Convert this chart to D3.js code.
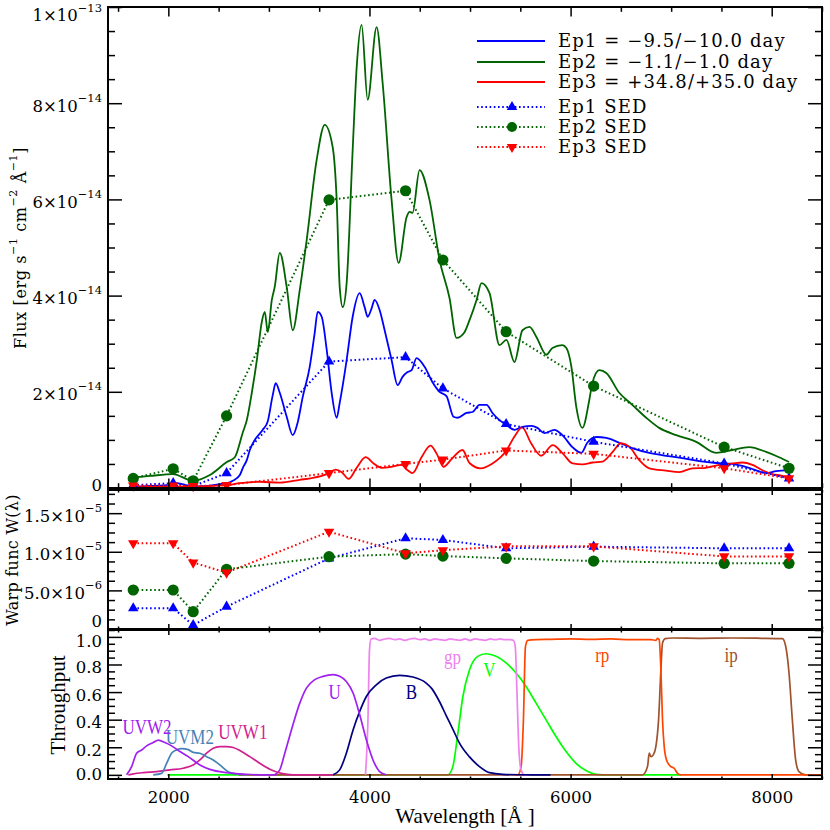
<!DOCTYPE html>
<html><head><meta charset="utf-8">
<script src="https://cdn.jsdelivr.net/npm/d3@7"></script>
<style>body{margin:0;background:#fff}svg{display:block}</style>
</head><body><svg id="c" width="830" height="830"></svg>
<script>
// ---------------- DATA ----------------
const FLUX_UNIT = 1e-14;   // spectra & SED values are in units of 1e-14 erg/s/cm2/A
const WARP_UNIT = 1e-5;    // warp function values are in units of 1e-5

// spectra: [wavelength (A), flux (1e-14)]
const ep1Spectrum = [[1618,0.03],[1986,0.06],[2085,0.10],[2244,0.03],[2582,0.10],[2641,0.15],[2711,0.27],[2741,0.42],[2780,0.58],[2810,0.79],[2860,1.00],[2939,1.21],[2989,1.39],[3038,1.93],[3068,2.18],[3108,1.98],[3177,1.48],[3237,1.10],[3287,1.37],[3336,1.89],[3406,2.52],[3455,3.22],[3485,3.66],[3525,3.56],[3575,2.87],[3624,1.98],[3674,1.46],[3704,1.77],[3773,2.66],[3833,3.56],[3902,4.05],[3952,3.76],[3982,3.56],[4022,3.74],[4051,3.91],[4101,3.70],[4151,3.28],[4220,2.66],[4280,2.14],[4329,2.31],[4379,2.41],[4419,2.45],[4468,2.70],[4548,2.52],[4627,2.20],[4697,2.00],[4766,1.91],[4836,1.48],[4876,1.46],[4965,1.56],[5025,1.58],[5094,1.73],[5164,1.73],[5223,1.56],[5293,1.41],[5362,1.31],[5442,1.21],[5521,1.27],[5611,1.29],[5670,1.25],[5740,1.14],[5839,1.21],[5918,1.10],[6018,0.85],[6107,0.73],[6166,0.94],[6256,1.06],[6355,1.04],[6484,0.94],[6613,0.83],[6782,0.73],[6951,0.67],[7110,0.62],[7279,0.56],[7447,0.52],[7606,0.50],[7775,0.42],[7944,0.31],[8043,0.35],[8172,0.37]];

const ep2Spectrum = [[1618,0.21],[1817,0.25],[2045,0.29],[2244,0.15],[2413,0.27],[2582,0.54],[2661,0.64],[2741,1.16],[2780,1.41],[2830,1.98],[2880,2.66],[2929,3.45],[2959,3.66],[2989,3.24],[3029,3.91],[3058,4.18],[3108,4.89],[3177,4.18],[3237,3.28],[3307,4.12],[3376,5.16],[3475,6.82],[3555,7.55],[3634,7.09],[3674,5.99],[3704,4.18],[3734,3.76],[3773,4.26],[3833,7.03],[3873,8.75],[3922,9.63],[3982,8.07],[4071,9.58],[4131,8.42],[4220,5.99],[4290,4.68],[4369,5.63],[4399,5.74],[4429,5.72],[4498,6.61],[4597,5.99],[4697,4.74],[4796,3.95],[4866,3.12],[4945,3.24],[4995,3.49],[5065,3.91],[5114,4.26],[5194,4.05],[5293,2.97],[5362,3.08],[5442,2.62],[5521,3.28],[5591,3.35],[5660,3.14],[5759,2.77],[5819,2.91],[5918,2.97],[5958,2.91],[6008,2.52],[6057,1.68],[6117,1.25],[6186,1.83],[6216,2.18],[6286,2.45],[6355,2.39],[6484,1.98],[6613,1.73],[6752,1.46],[6881,1.25],[7050,1.10],[7249,0.96],[7447,0.73],[7606,0.79],[7775,0.85],[7944,0.75],[8073,0.64],[8172,0.54]];

const ep3Spectrum = [[1618,0.01],[1986,0.03],[2244,0.03],[2582,0.06],[2711,0.10],[2909,0.13],[3108,0.11],[3307,0.17],[3436,0.21],[3575,0.29],[3664,0.38],[3724,0.33],[3793,0.19],[3873,0.42],[3962,0.64],[4041,0.51],[4121,0.42],[4220,0.44],[4320,0.48],[4379,0.37],[4429,0.31],[4518,0.64],[4607,0.88],[4667,0.72],[4737,0.44],[4816,0.60],[4925,0.79],[4995,0.52],[5104,0.41],[5223,0.51],[5362,0.78],[5442,1.07],[5518,1.26],[5607,0.93],[5707,0.67],[5822,0.89],[5921,0.72],[6020,0.51],[6120,0.49],[6219,0.53],[6318,0.55],[6418,0.75],[6501,0.93],[6584,0.86],[6683,0.58],[6782,0.41],[6948,0.36],[7080,0.33],[7212,0.41],[7345,0.42],[7478,0.48],[7609,0.51],[7708,0.53],[7808,0.48],[7907,0.37],[8006,0.29],[8106,0.25],[8172,0.20]];

// SED points
const sedWave = [1651, 2048, 2247, 2579, 3598, 4359, 4730, 5359, 6229, 7527, 8172];
const ep1Sed  = [0.06, 0.10, 0.04, 0.31, 2.63, 2.72, 2.07, 1.33, 0.96, 0.51, 0.20];
const ep2Sed  = [0.20, 0.40, 0.15, 1.50, 5.99, 6.18, 4.74, 3.25, 2.12, 0.85, 0.41];
const ep3Sed  = [0.05, 0.05, 0.04, 0.06, 0.31, 0.50, 0.59, 0.78, 0.71, 0.41, 0.20];

// warp function (units 1e-5)
const ep1Warp = [0.268, 0.268, 0.05, 0.29, 0.915, 1.175, 1.153, 1.045, 1.066, 1.045, 1.045];
const ep2Warp = [0.505, 0.505, 0.224, 0.773, 0.936, 0.97, 0.945, 0.915, 0.88, 0.85, 0.85];
const ep3Warp = [1.11, 1.11, 0.86, 0.73, 1.26, 0.98, 1.02, 1.07, 1.07, 0.94, 0.94];

// filter throughputs: [wavelength, throughput]
const vCurve = [[1990,0],[4780,0],[4829,0.06],[4879,0.30],[4929,0.568],[4995,0.762],[5077,0.859],[5160,0.878],[5260,0.859],[5359,0.811],[5458,0.738],[5557,0.641],[5657,0.52],[5756,0.399],[5855,0.278],[5955,0.169],[6054,0.084],[6153,0.031],[6253,0.004],[6385,0],[7100,0]];
const ipCurve = [[2700,0],[6716,0],[6765,0.06],[6782,0.157],[6799,0.132],[6822,0.145],[6848,0.205],[6875,0.40],[6898,0.76],[6914,0.956],[6941,0.987],[7014,0.992],[7300,0.99],[7600,0.992],[7900,0.99],[8106,0.987],[8139,0.932],[8172,0.738],[8205,0.40],[8238,0.108],[8271,0.024],[8338,0],[8470,0]];
const rpCurve = [[5450,0],[5475,0],[5508,0.06],[5531,0.40],[5551,0.93],[5574,0.975],[5657,0.98],[5800,0.982],[6000,0.985],[6200,0.982],[6400,0.985],[6600,0.98],[6800,0.98],[6848,0.975],[6865,0.99],[6881,0.98],[6898,0.76],[6914,0.40],[6931,0.205],[6954,0.108],[6997,0.06],[7030,0.048],[7063,0.011],[7097,0],[7500,0],[8000,0],[8500,0]];
const gpCurve = [[3960,0],[3985,0.40],[4000,0.90],[4015,0.985],[4050,0.99],[4100,0.975],[4150,0.985],[4200,0.99],[4250,0.98],[4300,0.985],[4350,0.975],[4400,0.985],[4450,0.99],[4500,0.98],[4550,0.985],[4600,0.975],[4650,0.985],[4700,0.98],[4750,0.975],[4800,0.985],[4850,0.98],[4900,0.975],[4950,0.985],[5000,0.975],[5050,0.985],[5100,0.98],[5150,0.975],[5200,0.985],[5250,0.98],[5300,0.985],[5350,0.98],[5400,0.98],[5430,0.975],[5450,0.93],[5465,0.64],[5485,0.2],[5508,0.035],[5541,0],[5600,0]];
const bCurve = [[3638,0],[3704,0.036],[3770,0.157],[3837,0.326],[3903,0.46],[3969,0.568],[4068,0.653],[4167,0.702],[4300,0.721],[4432,0.709],[4564,0.665],[4620,0.625],[4697,0.53],[4763,0.43],[4830,0.33],[4895,0.23],[4995,0.13],[5094,0.06],[5193,0.016],[5326,0.004],[5600,0],[5800,0]];
const uCurve = [[3058,0],[3108,0.036],[3158,0.157],[3224,0.326],[3307,0.52],[3373,0.629],[3456,0.69],[3538,0.714],[3638,0.726],[3704,0.714],[3770,0.677],[3837,0.593],[3903,0.435],[3969,0.254],[4035,0.108],[4101,0.024],[4167,0]];
const uvw1Curve = [[1602,0],[1652,0.007],[1751,0.016],[1883,0.024],[2016,0.036],[2148,0.048],[2247,0.072],[2314,0.108],[2380,0.157],[2446,0.193],[2512,0.205],[2578,0.205],[2645,0.198],[2711,0.176],[2810,0.132],[2909,0.084],[3009,0.041],[3125,0.011],[3240,0],[3373,0],[3638,0]];
const uvm2Curve = [[1850,0],[1933,0.011],[1983,0.084],[2032,0.157],[2082,0.181],[2132,0.19],[2198,0.183],[2247,0.163],[2314,0.157],[2380,0.132],[2446,0.108],[2512,0.072],[2595,0.023],[2678,0.006],[2777,0]];
const uvw2Curve = [[1585,0],[1635,0.06],[1685,0.157],[1734,0.18],[1784,0.21],[1850,0.234],[1900,0.252],[1966,0.234],[2032,0.21],[2115,0.169],[2198,0.132],[2314,0.072],[2413,0.04],[2578,0.016],[2744,0.006],[2909,0],[3075,0]];

const filterNames  = ["V", "ip", "rp", "gp", "B", "U", "UVW1", "UVM2", "UVW2"];
const filterCurves = [vCurve, ipCurve, rpCurve, gpCurve, bCurve, uCurve, uvw1Curve, uvm2Curve, uvw2Curve];
const filterColors = ["#00FF00", "#A0522D", "#FF4500", "#EE82EE", "#000080", "#A020F0", "#D02090", "#4682B4", "#A020F0"];
// label anchor of each filter name, in data units [wavelength, throughput]
const filterLabelAt = [[5193,0.76],[7596,0.869],[6315,0.869],[4826,0.854],[4416,0.601],[3654,0.601],[2741,0.311],[2214,0.274],[1787,0.347]];

const legendLabels = ["Ep1 = \u22129.5/\u221210.0 day", "Ep2 = \u22121.1/\u22121.0 day", "Ep3 = +34.8/+35.0 day", "Ep1 SED", "Ep2 SED", "Ep3 SED"];
const epochColors = ["#0000FF", "#006400", "#FF0000"];

const xTickValues    = [2000, 4000, 6000, 8000];
const fluxTickValues = [0, 2e-14, 4e-14, 6e-14, 8e-14, 1e-13];
const warpTickValues = [0, 5e-6, 1e-5, 1.5e-5];
const thrTickValues  = [0, 0.2, 0.4, 0.6, 0.8, 1.0];

// ---------------- LAYOUT ----------------
const svg = d3.select("#c");
const L = 108, R = 822;
const P = { top: [7, 488], mid: [490, 629], bot: [630, 779] };
const x = d3.scaleLinear().domain([1400, 8500]).range([L, R]);
const yTop = d3.scaleLinear().domain([0, 1e-13]).range([P.top[1], P.top[0]]);
const yMid = d3.scaleLinear().domain([0, 1.8e-5]).range([P.mid[1], P.mid[0]]);
const yBot = d3.scaleLinear().domain([-0.03, 1.05]).range([P.bot[1], P.bot[0]]);

const SERIF = "'DejaVu Serif', serif";
const TIMES = "'Liberation Serif', 'Times New Roman', serif";
const MINUS = "\u2212";
const TICK_FONT = 16.5;

const defs = svg.append("defs");
Object.entries(P).forEach(([k, [t, b]]) => {
  defs.append("clipPath").attr("id", "clip-" + k)
    .append("rect").attr("x", L).attr("y", t).attr("width", R - L).attr("height", b - t);
});

function range(a, b, s) { const o = []; for (let v = a; v <= b + s * 1e-6; v += s) o.push(+v.toPrecision(10)); return o; }

function sciParts(v, dec) {
  if (v === 0) return ["0", null];
  const e = Math.floor(Math.log10(v) + 1e-9);
  const m = v / Math.pow(10, e);
  return [m.toFixed(dec) + "\u00d710", MINUS + Math.abs(e)];
}

function styleAxis(g) {
  g.select(".domain").remove();
  g.attr("font-family", SERIF).attr("font-size", TICK_FONT);
  g.selectAll(".tick line").attr("stroke", "#000").attr("stroke-width", 1.5);
}

function yAxes(scale, [t, b], majors, minors, labeler, padTop, padBot) {
  const gl = svg.append("g").attr("transform", `translate(${L},0)`)
    .call(d3.axisLeft(scale).tickValues(majors).tickSize(-14).tickPadding(6));
  styleAxis(gl);
  gl.selectAll(".tick text").each(function (d) {
    const ty = scale(d);
    const cy = Math.max(t + padTop, Math.min(b - padBot, ty + 2));
    const txt = d3.select(this).attr("y", cy - ty).attr("dy", "0.36em").attr("fill", "#000").text(null);
    const [m, e] = labeler(d);
    txt.append("tspan").text(m);
    if (e) txt.append("tspan").attr("font-size", 11.5).attr("dy", "-0.85em").text(e);
  });
  const gm = svg.append("g").attr("transform", `translate(${L},0)`)
    .call(d3.axisLeft(scale).tickValues(minors).tickSize(-7).tickFormat(""));
  styleAxis(gm);
  const gr = svg.append("g").attr("transform", `translate(${R},0)`)
    .call(d3.axisRight(scale).tickValues(majors).tickSize(-14).tickFormat(""));
  styleAxis(gr);
  const grm = svg.append("g").attr("transform", `translate(${R},0)`)
    .call(d3.axisRight(scale).tickValues(minors).tickSize(-7).tickFormat(""));
  styleAxis(grm);
}

function xAxes([t, b], withLabels) {
  const h = b - t;
  const maj = Math.max(5, 0.02 * h), mn = maj / 2;
  const minors = range(1500, 8500, 500).filter(v => v % 2000 !== 0);
  [[t, "top"], [b, "bottom"]].forEach(([y, side]) => {
    const ax = side === "top" ? d3.axisTop : d3.axisBottom;
    const g = svg.append("g").attr("transform", `translate(0,${y})`)
      .call(ax(x).tickValues(xTickValues).tickSize(-maj).tickFormat(withLabels && side === "bottom" ? d3.format("d") : ""));
    styleAxis(g);
    if (withLabels && side === "bottom") g.selectAll(".tick text").attr("y", 18).attr("dy", "0.36em").attr("fill", "#000");
    const gm = svg.append("g").attr("transform", `translate(0,${y})`)
      .call(ax(x).tickValues(minors).tickSize(-mn).tickFormat(""));
    styleAxis(gm);
  });
}

// ---------------- TOP PANEL ----------------
const lineTop = d3.line().x(d => x(d[0])).y(d => yTop(d[1] * FLUX_UNIT)).curve(d3.curveMonotoneX);
const gTop = svg.append("g").attr("clip-path", "url(#clip-top)");
[ep1Spectrum, ep2Spectrum, ep3Spectrum].forEach((s, i) => {
  gTop.append("path").datum(s).attr("d", lineTop).attr("fill", "none")
    .attr("stroke", epochColors[i]).attr("stroke-width", 1.8);
});

const triUp = d3.symbol().type(d3.symbolTriangle).size(48);
function drawMarker(g, type, cx, cy, color, r) {
  if (type === 0) g.append("path").attr("d", triUp()).attr("transform", `translate(${cx},${cy})`).attr("fill", color);
  else if (type === 1) g.append("circle").attr("cx", cx).attr("cy", cy).attr("r", r || 5.6).attr("fill", color);
  else g.append("path").attr("d", triUp()).attr("transform", `translate(${cx},${cy}) rotate(180)`).attr("fill", color);
}

function drawSeds(g, series, yf) {
  series.forEach((vals, i) => {
    const pts = sedWave.map((w, j) => [w, vals[j]]);
    g.append("path").datum(pts)
      .attr("d", d3.line().x(d => x(d[0])).y(d => yf(d[1])))
      .attr("fill", "none").attr("stroke", epochColors[i]).attr("stroke-width", 2)
      .attr("stroke-dasharray", "1.6,2.6");
  });
  series.forEach((vals, i) => {
    sedWave.forEach((w, j) => drawMarker(g, i, x(w), yf(vals[j]), epochColors[i]));
  });
}
drawSeds(svg.append("g"), [ep1Sed, ep2Sed, ep3Sed], v => yTop(v * FLUX_UNIT));

// legend
const legY = [41, 62, 82, 107, 127, 147];
const leg = svg.append("g");
legendLabels.forEach((lab, i) => {
  const y = legY[i], col = epochColors[i % 3];
  const ln = leg.append("line").attr("x1", 477).attr("x2", 545).attr("y1", y).attr("y2", y)
    .attr("stroke", col).attr("stroke-width", i < 3 ? 1.8 : 2);
  if (i >= 3) { ln.attr("stroke-dasharray", "1.6,2.6"); drawMarker(leg, i - 3, 512, y, col, 5); }
  leg.append("text").attr("x", 558).attr("y", y).attr("dy", "0.36em")
    .attr("font-family", SERIF).attr("font-size", 18).attr("letter-spacing", 1.1).text(lab);
});

// ---------------- MIDDLE PANEL ----------------
drawSeds(svg.append("g"), [ep1Warp, ep2Warp, ep3Warp], v => yMid(v * WARP_UNIT));

// ---------------- BOTTOM PANEL ----------------
const lineBot = d3.line().x(d => x(d[0])).y(d => yBot(d[1])).curve(d3.curveMonotoneX);
const gBot = svg.append("g").attr("clip-path", "url(#clip-bot)");
filterCurves.forEach((c, i) => {
  gBot.append("path").datum(c).attr("d", lineBot).attr("fill", "none")
    .attr("stroke", filterColors[i]).attr("stroke-width", 1.7);
});
filterNames.forEach((n, i) => {
  const [w, t] = filterLabelAt[i];
  svg.append("text").attr("transform", `translate(${x(w)},${yBot(t)}) scale(0.85,1)`)
    .attr("text-anchor", "middle").attr("dy", "0.35em")
    .attr("font-family", TIMES).attr("font-size", 20).attr("fill", filterColors[i]).text(n);
});

// ---------------- AXES & FRAMES ----------------
yAxes(yTop, P.top, fluxTickValues, range(0, 1e-13, 5e-15).filter((v, i) => i % 4 !== 0), v => sciParts(v, 0), 8, 3);
yAxes(yMid, P.mid, warpTickValues, range(0, 1.75e-5, 1.25e-6).filter((v, i) => i % 4 !== 0), v => sciParts(v, 1), 8, 8.5);
yAxes(yBot, P.bot, thrTickValues, range(0, 1.05, 0.05).filter((v, i) => i % 4 !== 0), v => [v.toFixed(1), null], 11, 5);
xAxes(P.top, false);
xAxes(P.mid, false);
xAxes(P.bot, true);

Object.values(P).forEach(([t, b]) => {
  svg.append("rect").attr("x", L).attr("y", t).attr("width", R - L).attr("height", b - t)
    .attr("fill", "none").attr("stroke", "#000").attr("stroke-width", 2);
});

// ---------------- AXIS TITLES ----------------
function richText(sel, parts, supSize) {
  parts.forEach(([s, sup], k) => {
    const ts = sel.append("tspan").text(s);
    if (sup) ts.attr("font-size", supSize).attr("dy", "-0.8em");
    else if (k > 0 && parts[k - 1][1]) ts.attr("dy", "0.55em");
  });
}
const fluxTitle = svg.append("text").attr("transform", "translate(20,248) rotate(-90)")
  .attr("text-anchor", "middle").attr("dy", "0.36em")
  .attr("font-family", SERIF).attr("font-size", 16).attr("letter-spacing", 0.6);
richText(fluxTitle, [["Flux [erg s", 0], [MINUS + "1", 1], [" cm", 0], [MINUS + "2", 1], [" \u00c5", 0], [MINUS + "1", 1], ["]", 0]], 11);

svg.append("text").attr("transform", "translate(12,560) rotate(-90)")
  .attr("text-anchor", "middle").attr("dy", "0.36em")
  .attr("font-family", SERIF).attr("font-size", 16).attr("letter-spacing", 0.3).text("Warp func W(\u03bb)");

svg.append("text").attr("transform", "translate(57,705) rotate(-90)")
  .attr("text-anchor", "middle").attr("dy", "0.36em")
  .attr("font-family", TIMES).attr("font-size", 21).text("Throughput");

svg.append("text").attr("x", (L + R) / 2).attr("y", 815).attr("dy", "0.36em")
  .attr("text-anchor", "middle").attr("font-family", TIMES).attr("font-size", 21).text("Wavelength [\u00c5 ]");
</script></body></html>
